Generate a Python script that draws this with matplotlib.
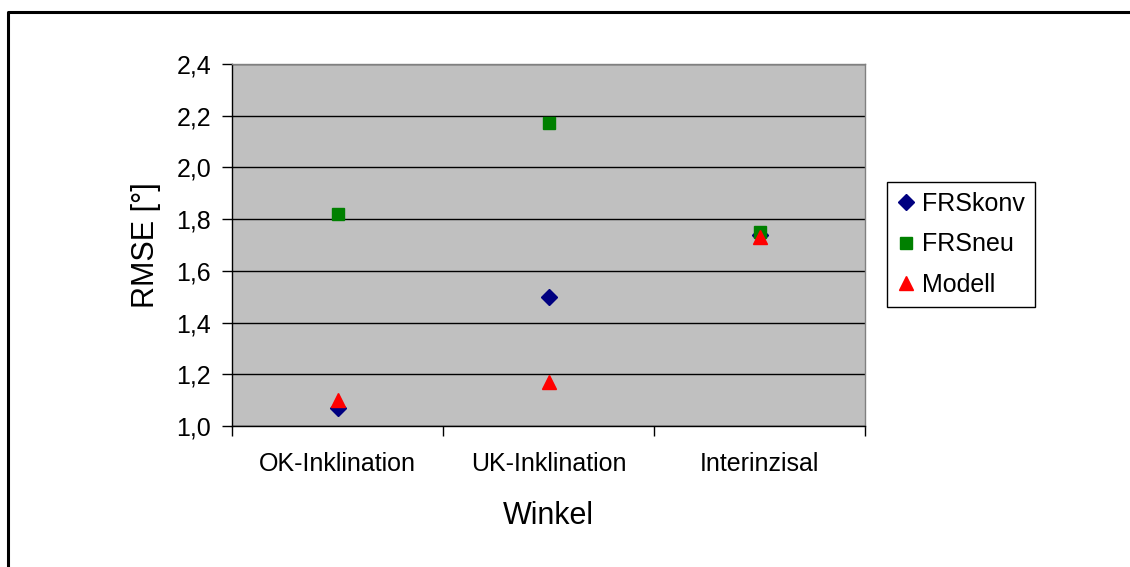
import matplotlib.pyplot as plt
from matplotlib.lines import Line2D
import numpy as np

plt.rcParams['font.family'] = ['Liberation Sans', 'DejaVu Sans']

# Data
categories = ['OK-Inklination', 'UK-Inklination', 'Interinzisal']
frs_konv = [1.07, 1.50, 1.74]
frs_neu = [1.82, 2.17, 1.75]
modell = [1.10, 1.17, 1.73]
y_ticks = [1.0, 1.2, 1.4, 1.6, 1.8, 2.0, 2.2, 2.4]

x = np.arange(1, len(categories) + 1)

fig = plt.figure(figsize=(11.3, 5.67), dpi=100)

# Outer chart border (top and left visible, the rest is cut off)
fig.add_artist(Line2D([8 / 1130, 8 / 1130, 1.0], [0.0, 1 - 12 / 567, 1 - 12 / 567],
                      transform=fig.transFigure, color='black', lw=2.2))

ax = fig.add_axes([232 / 1130, 1 - 426 / 567, 633 / 1130, 362 / 567])
ax.set_facecolor('#C0C0C0')

# Horizontal gridlines
for yv in y_ticks:
    ax.axhline(yv, color='black', lw=1.0, zorder=1)

ax.plot(x, frs_konv, linestyle='none', marker='D', color='#000080', markersize=8, zorder=3, label='FRSkonv')
ax.plot(x, frs_neu, linestyle='none', marker='s', color='#008000', markersize=8, zorder=3, label='FRSneu')
ax.plot(x, modell, linestyle='none', marker='^', color='#FF0000', markersize=10, zorder=4, label='Modell')

ax.set_xlim(0.5, 3.5)
ax.set_ylim(1.0, 2.4)
ax.set_yticks(y_ticks)
ax.set_yticklabels([f'{v:.1f}'.replace('.', ',') for v in y_ticks], fontsize=18)

# Category boundaries as major ticks, labels on minor ticks
ax.set_xticks([0.5, 1.5, 2.5, 3.5])
ax.set_xticklabels([])
ax.set_xticks(x, minor=True)
ax.set_xticklabels(categories, minor=True, fontsize=18)
ax.tick_params(axis='x', which='minor', length=0, pad=19)
ax.tick_params(axis='x', which='major', length=7, width=1, direction='out')
ax.tick_params(axis='y', length=7, width=1, direction='out', pad=8)

for side in ['top', 'right']:
    ax.spines[side].set_color('#808080')
    ax.spines[side].set_linewidth(1.0)
for side in ['left', 'bottom']:
    ax.spines[side].set_color('black')
    ax.spines[side].set_linewidth(1.0)

ax.set_xlabel('Winkel', fontsize=22, labelpad=18)
ax.set_ylabel('RMSE [°]', fontsize=22, labelpad=11)

leg = ax.legend(loc='upper left', bbox_to_anchor=(887 / 1130, 1 - 182 / 567), bbox_transform=fig.transFigure,
                fontsize=18, frameon=True, fancybox=False, edgecolor='black', framealpha=1,
                handlelength=0.7, handletextpad=0.3, borderpad=0.4, labelspacing=0.65,
                borderaxespad=0)
leg.get_frame().set_linewidth(1.0)

fig.savefig('out.png', dpi=100)
